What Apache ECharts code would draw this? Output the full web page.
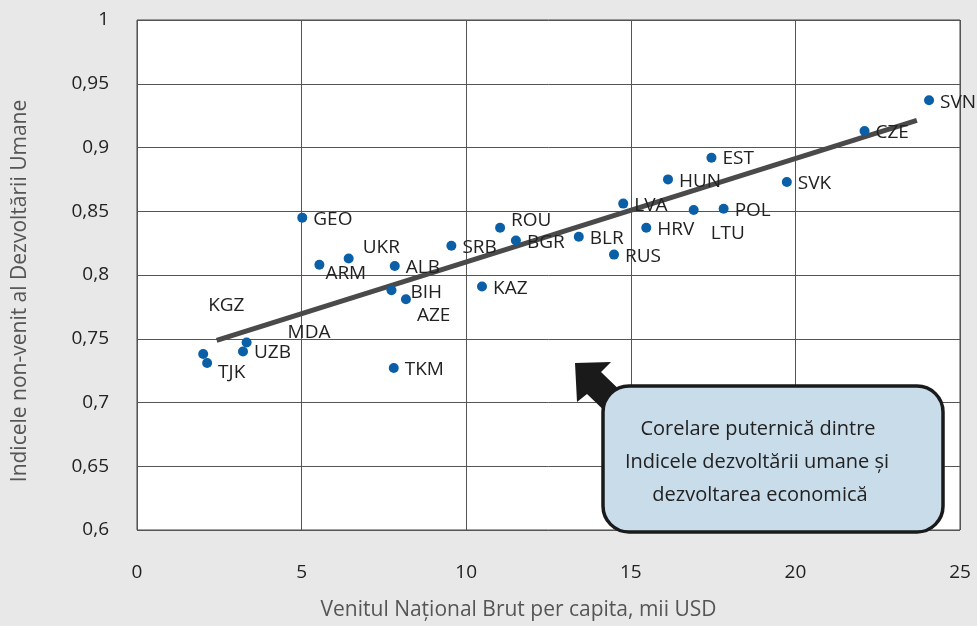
<!DOCTYPE html>
<html><head><meta charset="utf-8">
<script src="https://cdn.jsdelivr.net/npm/echarts@6/dist/echarts.min.js"></script>
<style>html,body{margin:0;padding:0;background:#e8e8e8;}#c{width:977px;height:626px;}</style>
</head><body><div id="c"></div>
<script>
const countries = ['SVN','CZE','EST','HUN','SVK','LVA','POL','LTU','HRV','BLR','RUS','ROU','BGR','SRB','KAZ','GEO','UKR','ARM','ALB','BIH','AZE','KGZ','TJK','MDA','UZB','TKM'];
const gni = [24.06,22.1,17.45,16.13,19.74,14.77,17.82,16.91,15.47,13.42,14.49,11.03,11.51,9.55,10.48,5.02,6.43,5.54,7.83,7.73,8.17,2.01,2.13,3.33,3.22,7.8];
const hdi = [0.937,0.913,0.892,0.875,0.873,0.856,0.852,0.851,0.837,0.830,0.816,0.837,0.827,0.823,0.791,0.845,0.813,0.808,0.807,0.788,0.781,0.738,0.731,0.747,0.740,0.727];
const trendX = [2.42, 23.69];
const trendY = [0.7487, 0.9213];
const xTicks = [0,5,10,15,20,25];
const yTicks = [0.6,0.65,0.7,0.75,0.8,0.85,0.9,0.95,1];
const xTitle = 'Venitul Național Brut per capita, mii USD';
const yTitle = 'Indicele non-venit al Dezvoltării Umane';
const noteLines = ['Corelare puternică dintre','Indicele dezvoltării umane și','dezvoltarea economică'];

// label offsets (style only)
const labelOffsets = {KGZ:[-6,-48], MDA:[30,-10], TJK:[0,10], AZE:[0,16], BIH:[8,2], ARM:[-5,9], UKR:[3,-11], LTU:[6,24], ROU:[0,-7], UZB:[0,1], EST:[0,1]};

const FONT = '"Open Sans", sans-serif';
const pts = countries.map((c,i)=>({
  value:[gni[i],hdi[i]], name:c,
  label:{offset: labelOffsets[c] || [0,2]}
}));

const chart = echarts.init(document.getElementById('c'), null, {renderer:'canvas'});
chart.setOption({
  backgroundColor:'#e8e8e8',
  animation:false,
  grid:{left:137,right:17,top:20,bottom:94,show:true,backgroundColor:'#ffffff',borderColor:'#444',borderWidth:1},
  xAxis:{type:'value',min:0,max:25,interval:5,
    axisLine:{show:false},axisTick:{show:false},
    splitLine:{show:true,lineStyle:{color:'#555',width:1}},
    axisLabel:{margin:33,fontFamily:FONT,fontSize:19,color:'#222',formatter:v=>String(v)},
    name:xTitle,nameLocation:'middle',nameGap:70,
    nameTextStyle:{fontFamily:FONT,fontSize:21,color:'#555',padding:[0,60,0,0]}},
  yAxis:{type:'value',min:0.6,max:1,interval:0.05,
    axisLine:{show:false},axisTick:{show:false},
    splitLine:{show:true,lineStyle:{color:'#555',width:1}},
    axisLabel:{margin:28,fontFamily:FONT,fontSize:19,color:'#222',
      formatter:v=>String(Math.round(v*100)/100).replace('.',',')},
    name:yTitle,nameLocation:'middle',nameGap:106,nameRotate:90,
    nameTextStyle:{fontFamily:FONT,fontSize:21,color:'#555',padding:[0,32,0,0]}},
  series:[
    {type:'line',data:trendX.map((x,i)=>[x,trendY[i]]),symbol:'none',
     lineStyle:{color:'#4a4a4a',width:5},z:2,silent:true},
    {type:'scatter',data:pts,symbolSize:10,itemStyle:{color:'#0a5fa6',opacity:1},z:3,
     label:{show:true,position:'right',distance:6,formatter:p=>p.name,
       fontFamily:FONT,fontSize:19,color:'#222'}}
  ],
  graphic:[
    {type:'polygon',z:10,shape:{points:[[575,363],[611,362],[601,372],[630,400],[612,418],[587,394],[577,402]]},
     style:{fill:'#1a1a1a'}},
    {type:'rect',z:11,shape:{x:603,y:386,width:340,height:146,r:26},
     style:{fill:'#c9dcea',stroke:'#1a1a1a',lineWidth:3.5}},
    {type:'text',z:12,x:758,y:429,style:{text:noteLines[0],font:'20px '+FONT,fill:'#222',textAlign:'center',textVerticalAlign:'middle'}},
    {type:'text',z:12,x:757,y:462,style:{text:noteLines[1],font:'20px '+FONT,fill:'#222',textAlign:'center',textVerticalAlign:'middle'}},
    {type:'text',z:12,x:760,y:495,style:{text:noteLines[2],font:'20px '+FONT,fill:'#222',textAlign:'center',textVerticalAlign:'middle'}}
  ]
});
</script></body></html>
